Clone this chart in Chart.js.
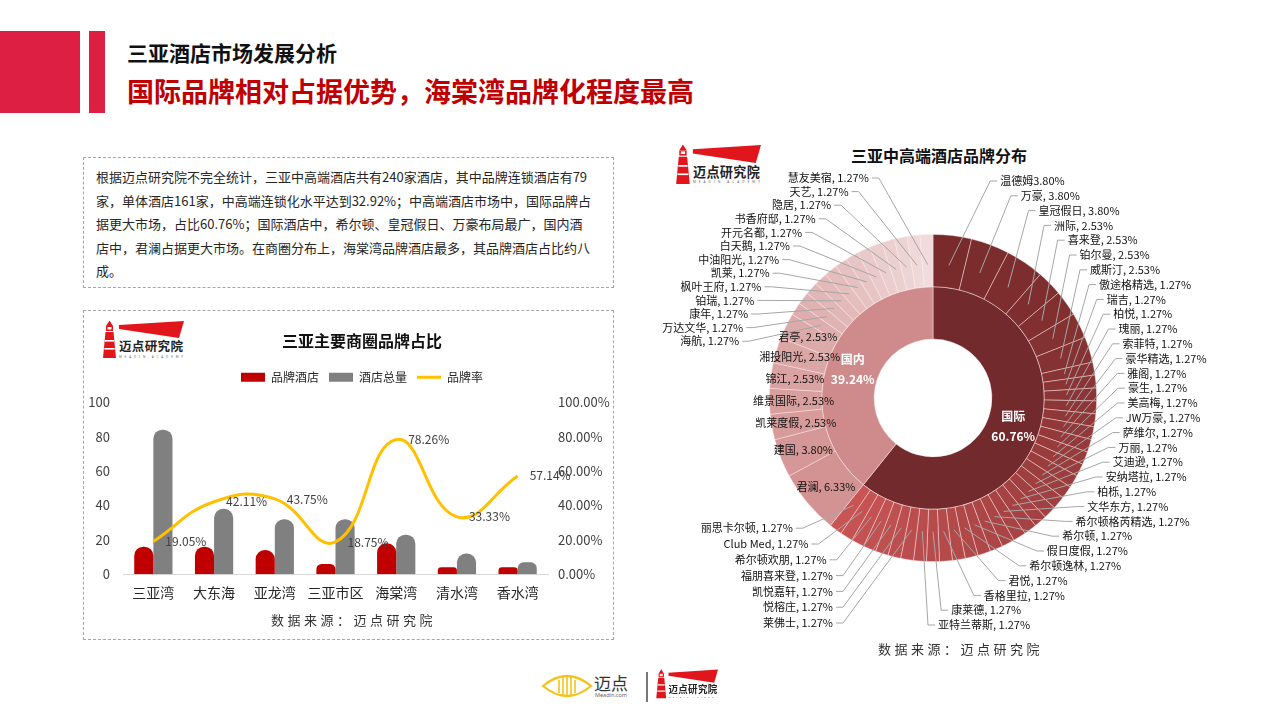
<!DOCTYPE html>
<html>
<head>
<meta charset="utf-8">
<script src="https://cdn.jsdelivr.net/npm/chart.js@4.4.1/dist/chart.umd.min.js"></script>
<style>
  body { margin: 0; background: #fff; font-family: "Noto Sans CJK SC", "Noto Sans", sans-serif; }
  #page { position: relative; width: 1280px; height: 720px; overflow: hidden; background: #fff; }
  .abs { position: absolute; }
  .redblock { background: #dc1f42; }
  #title1 { left: 127px; top: 37px; font-size: 21px; font-weight: bold; color: #111; }
  #title2 { left: 127px; top: 71px; font-size: 27px; font-weight: bold; color: #c00000; }
  .dashbox { border: 1.5px dashed #a6a6a6; box-sizing: border-box; }
  #intro { left: 83px; top: 157px; width: 531px; height: 131px; padding: 7px 0 0 12px;
           font-size: 13px; line-height: 23.5px; color: #262626; white-space: nowrap; }
  #box2 { left: 83px; top: 310px; width: 531px; height: 330px; }
  .source { font-size: 13px; color: #333; letter-spacing: 3.5px; white-space: nowrap; }
  #pieTitle { left: 839px; top: 143px; width: 200px; text-align: center; font-size: 16px; font-weight: bold; color: #111; }
</style>
</head>
<body>
<div id="page">
  <div class="abs redblock" style="left:0;top:31px;width:80px;height:82px;"></div>
  <div class="abs redblock" style="left:89px;top:31px;width:16px;height:82px;"></div>
  <div class="abs" id="title1">三亚酒店市场发展分析</div>
  <div class="abs" id="title2">国际品牌相对占据优势，海棠湾品牌化程度最高</div>

  <div class="abs dashbox" id="intro">根据迈点研究院不完全统计，三亚中高端酒店共有240家酒店，其中品牌连锁酒店有79<br>家，单体酒店161家，中高端连锁化水平达到32.92%；中高端酒店市场中，国际品牌占<br>据更大市场，占比60.76%；国际酒店中，希尔顿、皇冠假日、万豪布局最广，国内酒<br>店中，君澜占据更大市场。在商圈分布上，海棠湾品牌酒店最多，其品牌酒店占比约八<br>成。</div>

  <div class="abs dashbox" id="box2"></div>
  <div class="abs logo" style="left:100px;top:319px;width:84px;height:40px;"></div>
  <canvas class="abs" id="barChart" width="556" height="286" style="left:84px;top:325px;"></canvas>
  <div class="abs source" style="left:271px;top:610px;">数据来源：迈点研究院</div>

  <div class="abs logo" style="left:673px;top:143px;width:88px;height:42px;"></div>
  <div class="abs" id="pieTitle">三亚中高端酒店品牌分布</div>
  <canvas class="abs" id="pieChart" width="560" height="560" style="left:653px;top:118px;"></canvas>
  <div class="abs source" style="left:878px;top:639px;">数据来源：迈点研究院</div>

  <svg class="abs" style="left:540px;top:668px;" width="110" height="36" viewBox="0 0 110 36">
    <path d="M3,18 Q27,-2 51,18 Q27,38 3,18 Z" fill="none" stroke="#f4c21b" stroke-width="2.2"/>
    <g stroke="#f4c21b" stroke-width="1.6">
      <line x1="19" y1="12" x2="19" y2="25"/><line x1="23" y1="9" x2="23" y2="27"/>
      <line x1="27" y1="8" x2="27" y2="28"/><line x1="31" y1="9" x2="31" y2="27"/>
      <line x1="35" y1="12" x2="35" y2="25"/>
    </g>
    <text x="54" y="22" font-size="17" fill="#333" font-family="Noto Sans CJK SC">迈点</text>
    <text x="55" y="29" font-size="5.5" fill="#666" font-family="Noto Sans">Meadin.com</text>
  </svg>
  <div class="abs" style="left:646px;top:672px;width:1.5px;height:30px;background:#777;"></div>
  <div class="abs logo" style="left:654px;top:668px;width:64px;height:31px;"></div>
</div>

<script>
// 左图：三亚主要商圈品牌占比
const areas = ['三亚湾', '大东海', '亚龙湾', '三亚市区', '海棠湾', '清水湾', '香水湾'];
const brandHotels = [16, 16, 14, 6, 18, 4, 4];
const totalHotels = [84, 38, 32, 32, 23, 12, 7];
const brandRate = [19.05, 42.11, 43.75, 18.75, 78.26, 33.33, 57.14];
const countTicks = [0, 20, 40, 60, 80, 100];

// 右图：三亚中高端酒店品牌分布
const groupNames = ['国际', '国内'];
const groupShares = [60.76, 39.24];
const intlBrands = ['温德姆', '万豪', '皇冠假日', '洲际', '喜来登', '铂尔曼', '威斯汀', '傲途格精选', '瑞吉', '柏悦',
  '瑰丽', '索菲特', '豪华精选', '雅阁', '豪生', '美高梅', 'JW万豪', '萨维尔', '万丽', '艾迪逊',
  '安纳塔拉', '柏栎', '文华东方', '希尔顿格芮精选', '希尔顿', '假日度假', '希尔顿逸林', '君悦', '香格里拉', '康莱德',
  '亚特兰蒂斯', '莱佛士', '悦榕庄', '凯悦嘉轩', '福朋喜来登', '希尔顿欢朋', 'Club Med', '丽思卡尔顿'];
const intlShares = [3.80, 3.80, 3.80, 2.53, 2.53, 2.53, 2.53, 1.27, 1.27, 1.27,
  1.27, 1.27, 1.27, 1.27, 1.27, 1.27, 1.27, 1.27, 1.27, 1.27,
  1.27, 1.27, 1.27, 1.27, 1.27, 1.27, 1.27, 1.27, 1.27, 1.27,
  1.27, 1.27, 1.27, 1.27, 1.27, 1.27, 1.27, 1.27];
const domBrands = ['君澜', '建国', '凯莱度假', '维景国际', '锦江', '湘投阳光', '君亭', '海航', '万达文华', '康年',
  '铂瑞', '枫叶王府', '凯莱', '中油阳光', '白天鹅', '开元名都', '书香府邸', '隐居', '天艺', '慧友美宿'];
const domShares = [6.33, 3.80, 2.53, 2.53, 2.53, 2.53, 2.53, 1.27, 1.27, 1.27,
  1.27, 1.27, 1.27, 1.27, 1.27, 1.27, 1.27, 1.27, 1.27, 1.27];
const noCommaBrands = ['温德姆'];

const CJK = '"Noto Sans CJK SC", "Noto Sans", sans-serif';
Chart.defaults.font.family = CJK;
Chart.defaults.animation = false;

// logo
function logoSvg() {
  return `<svg width="100%" height="100%" viewBox="0 0 84 40" preserveAspectRatio="none">
    <polygon points="3,39 16,39 13.5,13 5.5,13" fill="#e0161c"/>
    <rect x="6" y="7" width="7" height="5" fill="#e0161c"/>
    <polygon points="6,7 9.5,1.5 13,7" fill="#e0161c"/>
    <rect x="7.5" y="8" width="4" height="2.5" fill="#fff"/>
    <rect x="5" y="21" width="9" height="1.6" fill="#fff"/>
    <rect x="4.3" y="29" width="10.4" height="1.6" fill="#fff"/>
    <polygon points="19,6 84,2 79,19 19,10" fill="#e0161c"/>
    <text x="19" y="32" font-size="12.5" font-weight="bold" fill="#222" textLength="64" font-family="Noto Sans CJK SC">迈点研究院</text>
    <text x="19" y="38.5" font-size="3" fill="#666" textLength="64" font-family="Noto Sans">MEADIN ACADEMY</text>
  </svg>`;
}
document.querySelectorAll('.logo').forEach(el => { el.innerHTML = logoSvg(); });

// 折线数据标签
const rateLabels = {
  id: 'rateLabels',
  afterDatasetsDraw(chart) {
    const ctx = chart.ctx;
    const meta = chart.getDatasetMeta(2);
    ctx.save();
    ctx.font = '12px ' + CJK;
    ctx.fillStyle = '#404040';
    ctx.textAlign = 'left';
    ctx.textBaseline = 'middle';
    meta.data.forEach((pt, i) => {
      ctx.fillText(brandRate[i].toFixed(2) + '%', pt.x + 12, pt.y);
    });
    ctx.restore();
  }
};

const legendGap = {
  id: 'legendGap',
  beforeInit(chart) {
    const fit = chart.legend.fit;
    chart.legend.fit = function () {
      fit.bind(chart.legend)();
      this.height += 9;
    };
  }
};

new Chart(document.getElementById('barChart'), {
  data: {
    labels: areas,
    datasets: [
      {
        type: 'bar', label: '品牌酒店', data: brandHotels, yAxisID: 'y', order: 1,
        backgroundColor: '#c00000', borderRadius: { topLeft: 9, topRight: 9, bottomLeft: 0, bottomRight: 0 },
        borderSkipped: 'bottom', categoryPercentage: 0.63, barPercentage: 1
      },
      {
        type: 'bar', label: '酒店总量', data: totalHotels, yAxisID: 'y', order: 1,
        backgroundColor: '#808080', borderRadius: { topLeft: 9, topRight: 9, bottomLeft: 0, bottomRight: 0 },
        borderSkipped: 'bottom', categoryPercentage: 0.63, barPercentage: 1
      },
      {
        type: 'line', label: '品牌率', data: brandRate, yAxisID: 'y1', order: 0,
        borderColor: '#ffc000', backgroundColor: '#ffc000', borderWidth: 3,
        tension: 0.45, pointRadius: 0
      }
    ]
  },
  options: {
    responsive: false,
    layout: { padding: { top: 0, bottom: 0, left: 0, right: 0 } },
    plugins: {
      title: {
        display: true, text: '三亚主要商圈品牌占比', color: '#111',
        font: { size: 16, weight: 'bold' }, padding: { top: 6, bottom: 11 }
      },
      legend: {
        labels: {
          usePointStyle: true, pointStyleWidth: 24, boxHeight: 9, boxWidth: 24,
          color: '#262626', font: { size: 12 }, padding: 10,
          sort: (a, b) => a.datasetIndex - b.datasetIndex,
          generateLabels(chart) {
            const items = Chart.defaults.plugins.legend.labels.generateLabels(chart);
            items.forEach(it => {
              const ds = chart.data.datasets[it.datasetIndex];
              it.pointStyle = ds.type === 'line' ? 'line' : 'rect';
              it.lineWidth = ds.type === 'line' ? 3 : 0;
              it.strokeStyle = ds.type === 'line' ? '#ffc000' : ds.backgroundColor;
            });
            return items;
          }
        }
      },
      tooltip: { enabled: false }
    },
    scales: {
      x: {
        grid: { display: false, drawTicks: false },
        border: { display: true, color: '#d9d9d9' },
        ticks: { color: '#262626', font: { size: 14 }, padding: 10, maxRotation: 0, minRotation: 0, autoSkip: false }
      },
      y: {
        position: 'left', min: 0, max: 100,
        afterBuildTicks: s => { s.ticks = countTicks.map(v => ({ value: v })); },
        grid: { display: false, drawTicks: false }, border: { display: false },
        ticks: { color: '#404040', font: { size: 13 }, padding: 13 },
        afterFit: s => { s.width = 39; }
      },
      y1: {
        position: 'right', min: 0, max: 100,
        afterBuildTicks: s => { s.ticks = countTicks.map(v => ({ value: v })); },
        grid: { display: false, drawTicks: false }, border: { display: false },
        ticks: { color: '#404040', font: { size: 13 }, padding: 10, callback: v => v.toFixed(2) + '%' },
        afterFit: s => { s.width = 92; }
      }
    }
  },
  plugins: [rateLabels, legendGap]
});

// 环形图
const outerNames = intlBrands.concat(domBrands);
const outerShares = intlShares.concat(domShares);

function mix(c1, c2, t) {
  const r = Math.round(c1[0] + (c2[0] - c1[0]) * t);
  const g = Math.round(c1[1] + (c2[1] - c1[1]) * t);
  const b = Math.round(c1[2] + (c2[2] - c1[2]) * t);
  return `rgb(${r},${g},${b})`;
}
const outerColors = outerNames.map((n, i) => {
  if (i < intlBrands.length) return mix([121, 43, 44], [200, 84, 84], i / (intlBrands.length - 1));
  const j = i - intlBrands.length;
  return mix([212, 147, 147], [240, 220, 220], j / (domBrands.length - 1));
});

function brandLabel(i) {
  const name = outerNames[i];
  const pct = outerShares[i].toFixed(2) + '%';
  return noCommaBrands.includes(name) ? name + pct : name + ', ' + pct;
}

// items already in top-to-bottom order
function spread(items, top, bottom, gap) {
  let prev = -Infinity;
  items.forEach(it => { it.y = Math.max(it.ideal, top, prev + gap); prev = it.y; });
  let next = Infinity;
  for (let i = items.length - 1; i >= 0; i--) {
    items[i].y = Math.min(items[i].y, bottom, next - gap);
    next = items[i].y;
  }
}

function sideOffset(dy, side) {
  const a = side === 'right' ? 195 : 200;
  const b = dy < 0 ? 240 : 225;
  const v = a * Math.pow(Math.max(0, 1 - (dy / b) * (dy / b)), 0.75);
  if (side === 'right') return Math.max(5, v);
  return Math.max(dy > 0 ? 100 : 40, v);
}

const pieLabels = {
  id: 'pieLabels',
  afterDatasetsDraw(chart) {
    const ctx = chart.ctx;
    const outer = chart.getDatasetMeta(0).data;
    const inner = chart.getDatasetMeta(1).data;
    const cx = outer[0].x, cy = outer[0].y;
    ctx.save();
    ctx.textBaseline = 'middle';
    ctx.font = '11px ' + CJK;
    const right = [], upperLeft = [], lowerLeft = [];
    outer.forEach((arc, i) => {
      const mid = (arc.startAngle + arc.endAngle) / 2;
      const inside = i >= intlBrands.length && outerShares[i] > 2;
      if (inside) {
        const r = (arc.innerRadius + arc.outerRadius) / 2 + 2;
        ctx.fillStyle = '#111';
        ctx.textAlign = 'center';
        ctx.fillText(brandLabel(i), cx + Math.cos(mid) * r, cy + Math.sin(mid) * r);
        return;
      }
      // clockwise degrees from 12 o'clock
      const clock = ((mid + Math.PI / 2) * 180 / Math.PI + 360) % 360;
      const item = {
        text: brandLabel(i), clock,
        ax: cx + Math.cos(mid) * (arc.outerRadius - 30),
        ay: cy + Math.sin(mid) * (arc.outerRadius - 30),
        ideal: cy + Math.sin(mid) * (arc.outerRadius + 71)
      };
      if (clock < 186) right.push(item);
      else if (clock < 270) lowerLeft.push(item);
      else upperLeft.push(item);
    });
    right.sort((a, b) => a.clock - b.clock);
    upperLeft.sort((a, b) => b.clock - a.clock);
    lowerLeft.sort((a, b) => b.clock - a.clock);
    spread(right, cy - 217, cy + 227, 14.8);
    spread(upperLeft, cy - 220, cy, 13.6);
    spread(lowerLeft, cy, cy + 225, 15.8);
    const left = upperLeft.concat(lowerLeft);

    ctx.strokeStyle = '#a6a6a6';
    ctx.lineWidth = 1;
    ctx.fillStyle = '#111';
    right.forEach(it => {
      const lx = cx + sideOffset(it.y - cy + 8, 'right');
      ctx.beginPath();
      ctx.moveTo(it.ax, it.ay);
      ctx.lineTo(lx - 10, it.y);
      ctx.lineTo(lx - 3, it.y);
      ctx.stroke();
      ctx.textAlign = 'left';
      ctx.fillText(it.text, lx, it.y);
    });
    left.forEach(it => {
      const rx = cx - sideOffset(it.y - cy + 8, 'left');
      ctx.beginPath();
      ctx.moveTo(it.ax, it.ay);
      ctx.lineTo(rx + 10, it.y);
      ctx.lineTo(rx + 3, it.y);
      ctx.stroke();
      ctx.textAlign = 'right';
      ctx.fillText(it.text, rx, it.y);
    });

    // 内环标签
    ctx.font = 'bold 12px ' + CJK;
    ctx.fillStyle = '#fff';
    ctx.textAlign = 'center';
    inner.forEach((arc, i) => {
      const mid = (arc.startAngle + arc.endAngle) / 2;
      const r = (arc.innerRadius + arc.outerRadius) / 2;
      const x = cx + Math.cos(mid) * r, y = cy + Math.sin(mid) * r;
      ctx.fillText(groupNames[i], x, y - 10);
      ctx.fillText(groupShares[i].toFixed(2) + '%', x, y + 10);
    });
    ctx.restore();
  }
};

new Chart(document.getElementById('pieChart'), {
  type: 'doughnut',
  data: {
    labels: outerNames,
    datasets: [
      {
        data: outerShares, backgroundColor: outerColors,
        borderColor: 'rgba(255,235,235,0.55)', borderWidth: 0.8
      },
      {
        data: groupShares, backgroundColor: ['#722a2c', '#cf8b8b'],
        borderColor: 'rgba(255,235,235,0.6)', borderWidth: 0.8
      }
    ]
  },
  options: {
    responsive: false,
    cutout: '36%',
    layout: { padding: 116 },
    plugins: { legend: { display: false }, tooltip: { enabled: false } }
  },
  plugins: [pieLabels]
});
</script>
</body>
</html>
